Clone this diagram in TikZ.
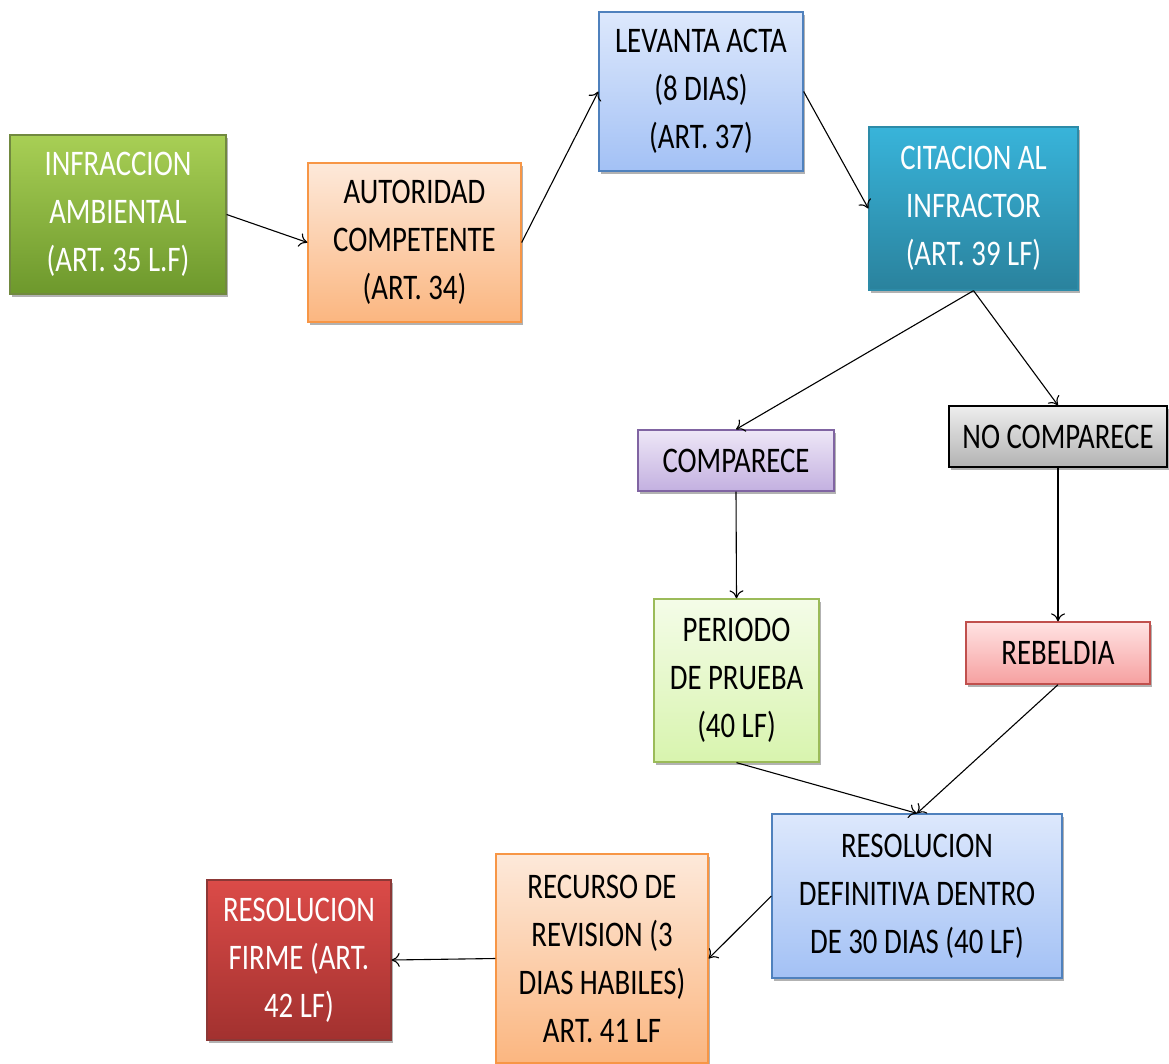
\documentclass[tikz,border=0pt]{standalone}
\usepackage{fontspec}
\setmainfont[FakeStretch=0.8]{Carlito}
\usepackage{xcolor}
\usetikzlibrary{shadows,arrows.meta}

\definecolor{greenTop}{HTML}{A8CF55}
\definecolor{greenBot}{HTML}{6D982C}
\definecolor{greenLine}{HTML}{71893F}
\definecolor{orangeTop}{HTML}{FDE9DA}
\definecolor{orangeBot}{HTML}{FBB680}
\definecolor{orangeLine}{HTML}{F79646}
\definecolor{blueTop}{HTML}{DDE8FC}
\definecolor{blueBot}{HTML}{A3C1F5}
\definecolor{blueLine}{HTML}{4F81BD}
\definecolor{tealTop}{HTML}{38B4DA}
\definecolor{tealBot}{HTML}{2A829D}
\definecolor{tealLine}{HTML}{2D8BA8}
\definecolor{purpleTop}{HTML}{EEE7F7}
\definecolor{purpleBot}{HTML}{C3B0E0}
\definecolor{purpleLine}{HTML}{8064A2}
\definecolor{grayTop}{HTML}{EEEEEE}
\definecolor{grayBot}{HTML}{B2B2B2}
\definecolor{limeTop}{HTML}{F4FCE8}
\definecolor{limeBot}{HTML}{D8F4AE}
\definecolor{limeLine}{HTML}{9BBB59}
\definecolor{pinkTop}{HTML}{FFE3E3}
\definecolor{pinkBot}{HTML}{F6A0A0}
\definecolor{pinkLine}{HTML}{C0504D}
\definecolor{redTop}{HTML}{DB4B48}
\definecolor{redBot}{HTML}{A2312F}
\definecolor{redLine}{HTML}{8C3836}

\tikzset{
    box/.style={rectangle, draw, line width=1.3pt, align=center, inner sep=0pt,
                font=\fontsize{36}{48}\selectfont,
                drop shadow={shadow xshift=2pt, shadow yshift=-3pt, opacity=0.3, fill=black}},
    greenbox/.style={box, draw=greenLine, top color=greenTop, bottom color=greenBot, text=white},
    orangebox/.style={box, draw=orangeLine, top color=orangeTop, bottom color=orangeBot},
    bluebox/.style={box, draw=blueLine, top color=blueTop, bottom color=blueBot},
    tealbox/.style={box, draw=tealLine, top color=tealTop, bottom color=tealBot, text=white},
    purplebox/.style={box, draw=purpleLine, top color=purpleTop, bottom color=purpleBot},
    graybox/.style={box, draw=black, top color=grayTop, bottom color=grayBot},
    limebox/.style={box, draw=limeLine, top color=limeTop, bottom color=limeBot},
    pinkbox/.style={box, draw=pinkLine, top color=pinkTop, bottom color=pinkBot},
    redbox/.style={box, draw=redLine, top color=redTop, bottom color=redBot, text=white},
    flow/.style={-{To[length=8pt,width=14pt]}, line width=1.1pt}
}

\begin{document}
\begin{tikzpicture}[x=1pt, y=-1pt]
        \useasboundingbox (0,0) rectangle (1169,1063);

        % first row
        \node[greenbox, minimum width=216pt, minimum height=159pt] (infr) at (118,214.5)
            {INFRACCION\\AMBIENTAL\\(ART. 35 L.F)};
        \node[orangebox, minimum width=213pt, minimum height=159pt] (aut) at (414.5,242.5)
            {AUTORIDAD\\COMPETENTE\\(ART. 34)};
        \node[bluebox, minimum width=204pt, minimum height=159pt] (lev) at (701,91.5)
            {LEVANTA ACTA\\(8 DIAS)\\(ART. 37)};
        \node[tealbox, minimum width=209pt, minimum height=163pt] (cit) at (973.5,208.5)
            {CITACION AL\\INFRACTOR\\(ART. 39 LF)};

        % the two branches
        \node[purplebox, minimum width=196pt, minimum height=61pt] (comp) at (736,460.5)
            {COMPARECE};
        \node[graybox, minimum width=218pt, minimum height=61pt] (nocomp) at (1058,436.5)
            {NO COMPARECE};
        \node[limebox, minimum width=165pt, minimum height=163pt] (prueba) at (736.5,680.5)
            {PERIODO\\DE PRUEBA\\(40 LF)};
        \node[pinkbox, minimum width=184pt, minimum height=62pt] (rebeldia) at (1058,653)
            {REBELDIA};

        % last row
        \node[bluebox, minimum width=290pt, minimum height=164pt] (resdef) at (917,896)
            {RESOLUCION\\DEFINITIVA DENTRO\\DE 30 DIAS (40 LF)};
        \node[orangebox, minimum width=212pt, minimum height=209pt] (recurso) at (602,958.5)
            {RECURSO DE\\REVISION (3\\DIAS HABILES)\\ART. 41 LF};
        \node[redbox, minimum width=184pt, minimum height=160pt] (firme) at (299,960)
            {RESOLUCION\\FIRME (ART.\\42 LF)};

        % connectors
        \draw[flow] (infr.east) -- (aut.west);
        \draw[flow] (aut.east) -- (lev.west);
        \draw[flow] (lev.east) -- (cit.west);
        \draw[flow] (cit.south) -- (comp.north);
        \draw[flow] (cit.south) -- (nocomp.north);
        \draw[flow] (comp.south) -- (prueba.north);
        \draw[flow] (nocomp.south) -- (rebeldia.north);
        \draw[flow] (prueba.south) -- (resdef.north);
        \draw[flow] (rebeldia.south) -- (resdef.north);
        \draw[flow] (resdef.west) -- (recurso.east);
        \draw[flow] (recurso.west) -- (firme.east);
\end{tikzpicture}
\end{document}
